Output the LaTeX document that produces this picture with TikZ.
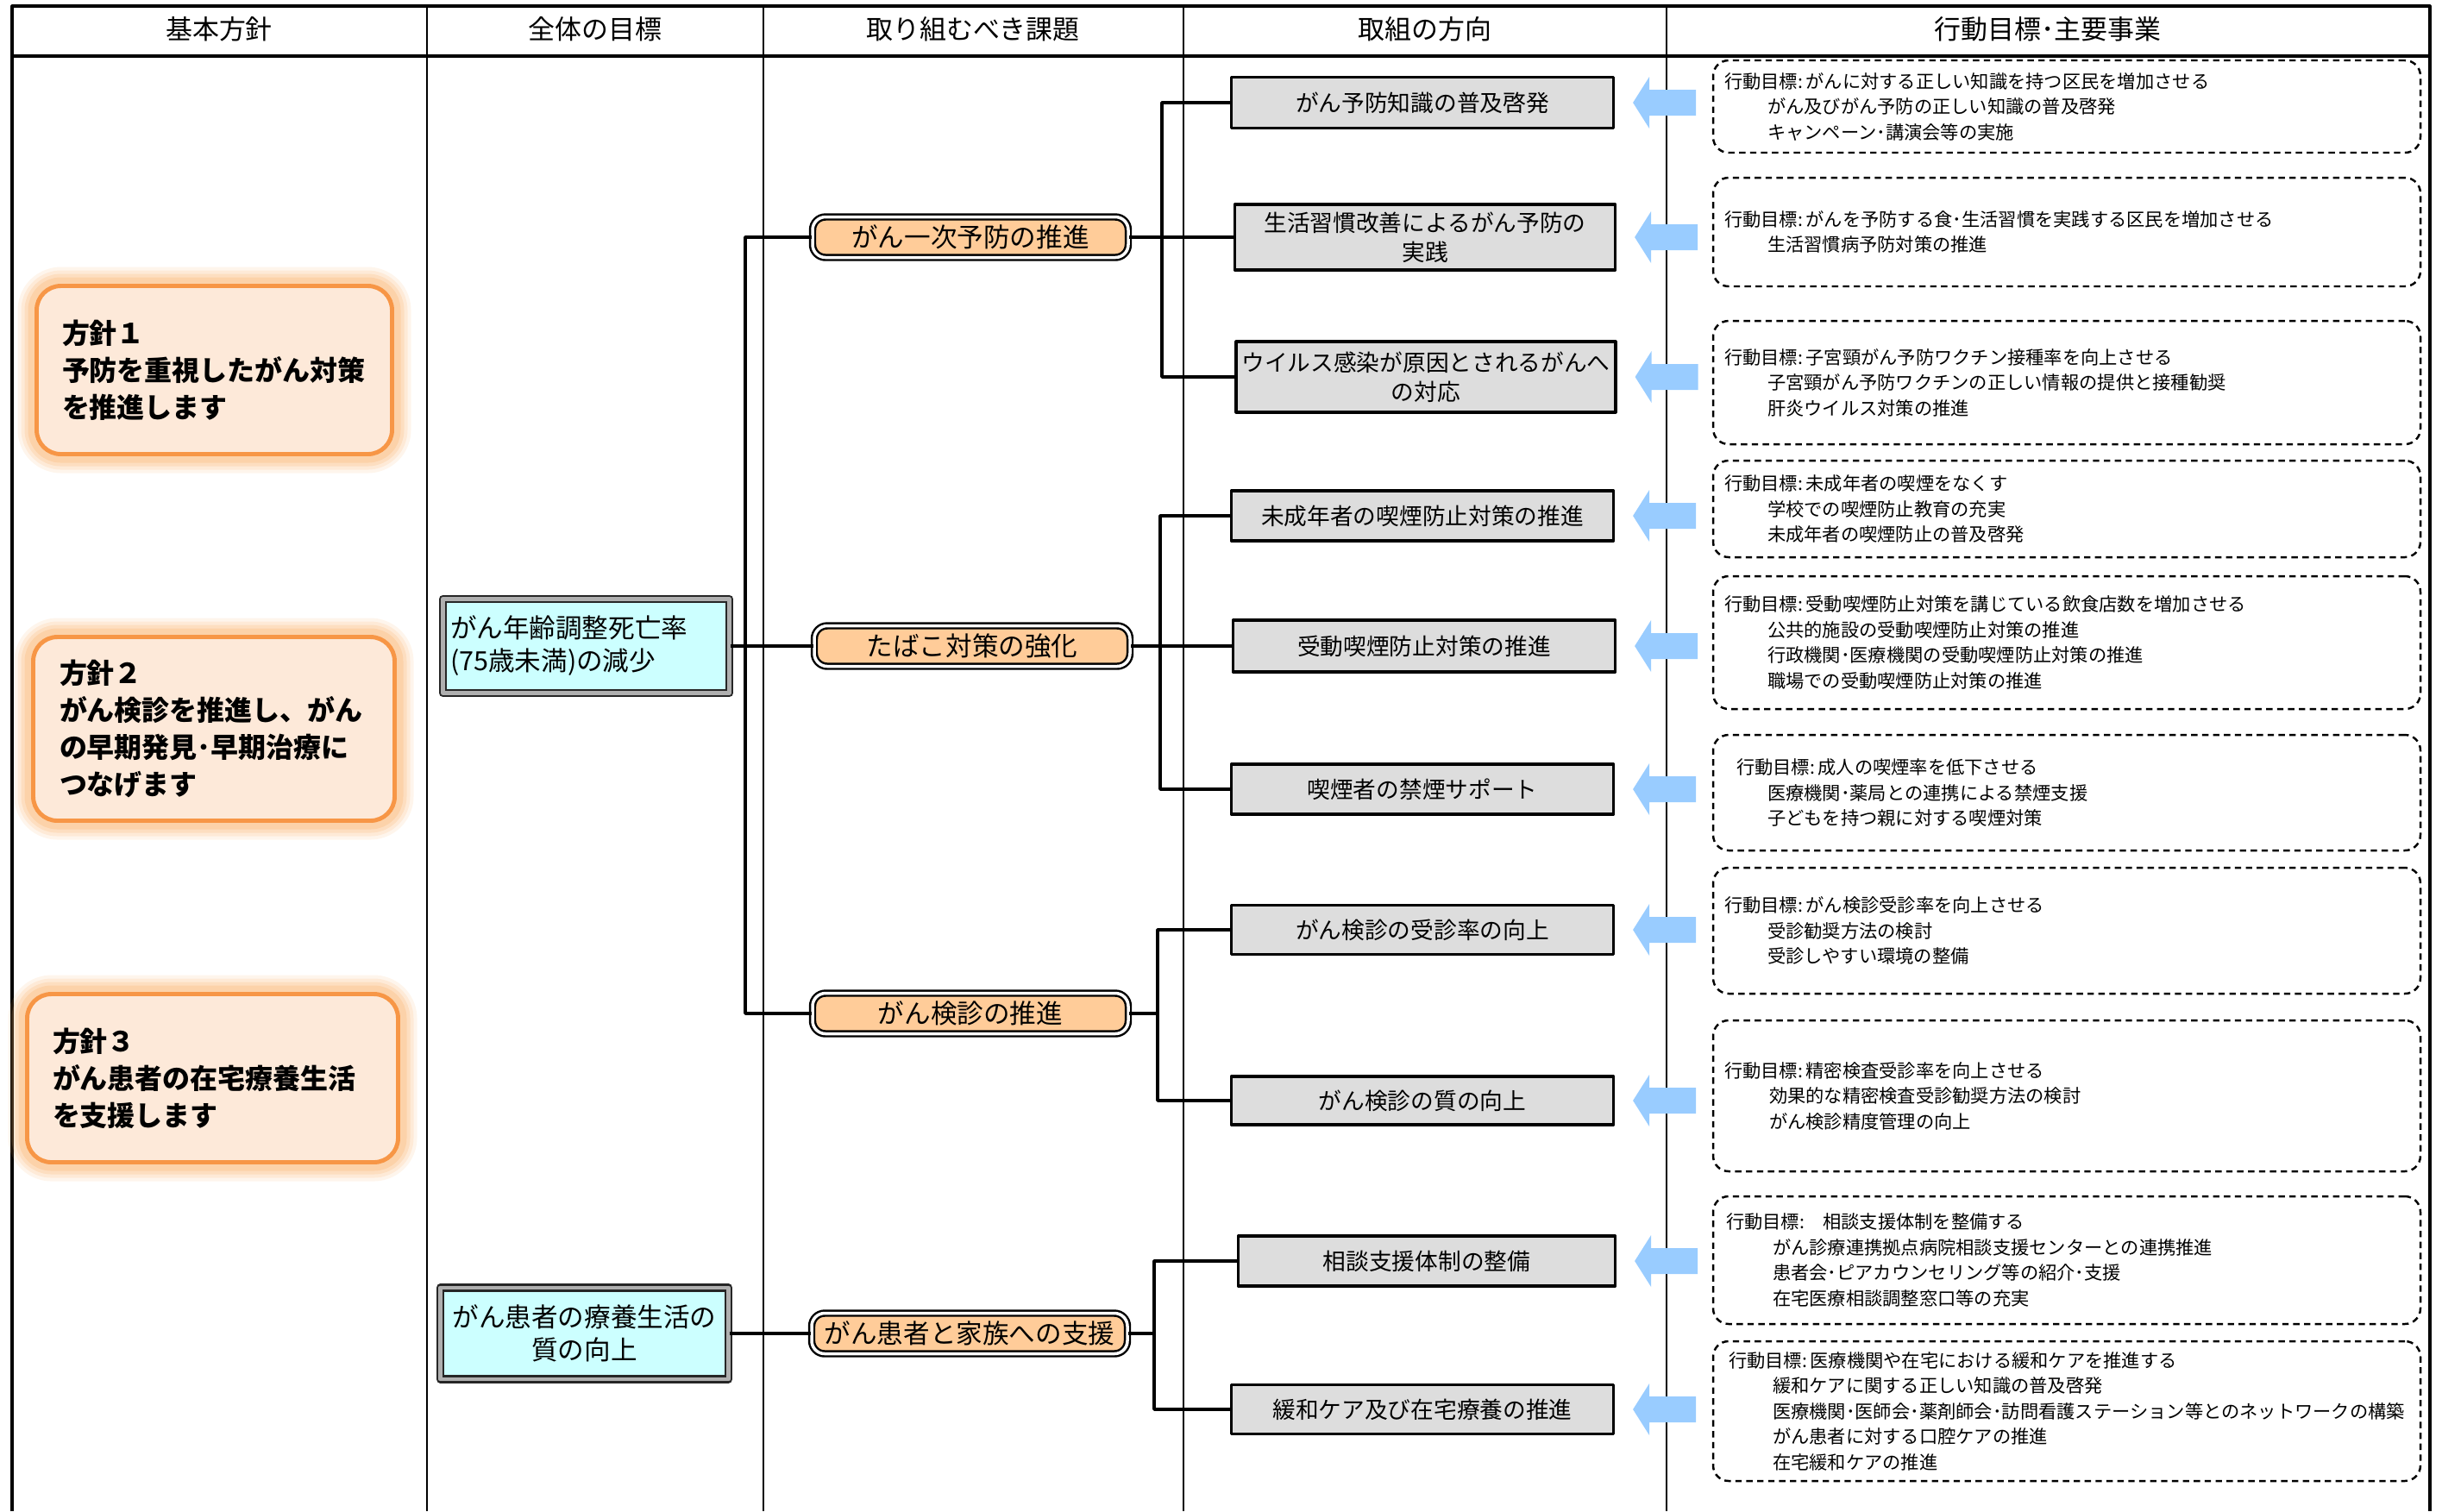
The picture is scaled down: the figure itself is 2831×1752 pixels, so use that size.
\documentclass[tikz,border=0pt]{standalone}
\usepackage{fontspec}
\setmainfont{Noto Sans CJK JP}
\usetikzlibrary{calc}
\definecolor{issuefill}{HTML}{FFCC99}
\definecolor{goalfill}{HTML}{CCFFFF}
\definecolor{dirfill}{HTML}{DDDDDD}
\definecolor{arrowblue}{HTML}{99CCFF}
\definecolor{hoshinfill}{HTML}{FDE9D9}
\definecolor{hoshinline}{HTML}{F79646}
\definecolor{glowc}{HTML}{FAB36E}
\definecolor{bevel}{HTML}{8C8C8C}
\begin{document}
\begin{tikzpicture}[x=0.1mm,y=-0.1mm,line join=round,
  frameline/.style={line width=0.9pt,black},
  colline/.style={line width=0.55pt,black},
  conn/.style={line width=1pt,black},
  hdr/.style={font=\fontsize{8.8}{10}\selectfont,inner sep=0pt},
  glow/.style={
    preaction={draw=glowc,line width=4.4mm,draw opacity=0.13},
    preaction={draw=glowc,line width=3.6mm,draw opacity=0.17},
    preaction={draw=glowc,line width=2.8mm,draw opacity=0.22},
    preaction={draw=glowc,line width=2.0mm,draw opacity=0.28}},
  hoshin/.style={glow,draw=hoshinline,line width=1.4pt,fill=hoshinfill,
    rounded corners=2.8mm,align=left,inner ysep=0pt,
    font=\bfseries\fontsize{9.1}{12.2}\selectfont},
  goal/.style={draw=black!85,line width=0.6pt,double=bevel!70,double distance=1.4pt,
    fill=goalfill,inner ysep=0pt,font=\fontsize{8.7}{10.8}\selectfont},
  issue/.style={draw=black,line width=0.7pt,double=white,double distance=1pt,
    fill=issuefill,rounded corners=1.5mm,inner sep=0pt,
    minimum width=36.6mm,minimum height=4.7mm,font=\fontsize{8.7}{10}\selectfont},
  dir/.style={draw=black,line width=0.9pt,fill=dirfill,align=center,inner sep=0pt,
    minimum width=44.3mm,font=\fontsize{7.6}{9.7}\selectfont},
  act/.style={draw=black,line width=0.7pt,dash pattern=on 2.1pt off 1.5pt,
    rounded corners=1.8mm,align=left,inner xsep=1.3mm,inner ysep=0pt,
    text width=79.4mm,font=\fontsize{6.05}{8.4}\selectfont},
  bluearrow/.style={fill=arrowblue,draw=none}]
\useasboundingbox (0,0) rectangle (2831,1752);

% table
\draw[frameline] (14,1752) -- (14,7) -- (2817,7) -- (2817,1752);
\draw[line width=1.3pt] (14,65) -- (2817,65);
\foreach \cx in {495,885,1372,1932} \draw[colline] (\cx,7) -- (\cx,1752);

\node[hdr] (h1) at (254,34) {基本方針};
\node[hdr] (h2) at (690,34) {全体の目標};
\node[hdr] (h3) at (1128,34) {取り組むべき課題};
\node[hdr] (h4) at (1652,34) {取組の方向};
\node[hdr] (h5) at (2374,34) {行動目標･主要事業};

% basic policies
\node[hoshin,inner xsep=2.95mm,text width=35.3mm,minimum height=19.5mm] (p1) at (248.5,429)
  {方針１\\予防を重視したがん対策\\を推進します};
\node[hoshin,inner xsep=3.05mm,text width=35.8mm,minimum height=21.3mm] (p2) at (248,845)
  {方針２\\がん検診を推進し、がん\\の早期発見･早期治療に\\つなげます};
\node[hoshin,inner xsep=2.95mm,text width=37.1mm,minimum height=19.5mm] (p3) at (246.5,1250)
  {方針３\\がん患者の在宅療養生活\\を支援します};

% overall goals
\node[goal,align=left,inner xsep=0.85mm,text width=31.5mm,minimum height=10.9mm] (gA) at (679.5,749)
  {がん年齢調整死亡率\\(75歳未満)の減少};
\node[goal,align=center,minimum width=33.4mm,minimum height=10.6mm,inner xsep=0pt] (gB) at (677.5,1546)
  {がん患者の療養生活の\\質の向上};

% issues
\node[issue] (i1) at (1125,275) {がん一次予防の推進};
\node[issue] (i2) at (1127,749) {たばこ対策の強化};
\node[issue] (i3) at (1125,1175) {がん検診の推進};
\node[issue] (i4) at (1124,1546) {がん患者と家族への支援};

% directions
\node[dir,minimum height=5.9mm] (d1) at (1649,119) {がん予防知識の普及啓発};
\node[dir,minimum width=44.1mm,minimum height=7.6mm] (d2) at (1652,275) {生活習慣改善によるがん予防の\\実践};
\node[dir,minimum width=44.0mm,minimum height=8.2mm] (d3) at (1653,437) {ウイルス感染が原因とされるがんへ\\の対応};
\node[dir,minimum height=5.8mm] (d4) at (1649,598) {未成年者の喫煙防止対策の推進};
\node[dir,minimum height=6.0mm] (d5) at (1651,749) {受動喫煙防止対策の推進};
\node[dir,minimum height=5.8mm] (d6) at (1649,915) {喫煙者の禁煙サポート};
\node[dir,minimum height=5.7mm] (d7) at (1649,1078) {がん検診の受診率の向上};
\node[dir,minimum height=5.6mm] (d8) at (1649,1276) {がん検診の質の向上};
\node[dir,minimum width=43.7mm,minimum height=5.8mm] (d9) at (1654,1462) {相談支援体制の整備};
\node[dir,minimum height=5.7mm] (d10) at (1649,1634) {緩和ケア及び在宅療養の推進};

% connectors
\coordinate (gt) at (864,749);
\draw[conn] (gA.east) -- (i2.west);
\draw[conn] (i1.west) -| (gt);
\draw[conn] (i3.west) -| (gt);
\draw[conn] (gB.east) -- (i4.west);

\coordinate (t1) at (1347,275);
\coordinate (t2) at (1345,749);
\coordinate (t3) at (1342,1175);
\coordinate (t4) at (1338,1546);
\draw[conn] (i1.east) -- (t1);
\draw[conn] (d1.west) -| (t1);
\draw[conn] (d2.west) -- (t1);
\draw[conn] (d3.west) -| (t1);
\draw[conn] (i2.east) -- (t2);
\draw[conn] (d4.west) -| (t2);
\draw[conn] (d5.west) -- (t2);
\draw[conn] (d6.west) -| (t2);
\draw[conn] (i3.east) -- (t3);
\draw[conn] (d7.west) -| (t3);
\draw[conn] (d8.west) -| (t3);
\draw[conn] (i4.east) -- (t4);
\draw[conn] (d9.west) -| (t4);
\draw[conn] (d10.west) -| (t4);

% block arrows
\foreach \d in {d1,d2,d3,d4,d5,d6,d7,d8,d9,d10}
  \fill[bluearrow] ([xshift=2.1mm]\d.east) -- ++(19,-30) -- ++(0,15) -- ++(54,0)
    -- ++(0,30) -- ++(-54,0) -- ++(0,15) -- cycle;

% action boxes
\node[act,minimum height=10.7mm] (a1) at (2396,123.5)
  {行動目標:\,がんに対する正しい知識を持つ区民を増加させる\\
   \hspace*{5mm}がん及びがん予防の正しい知識の普及啓発\\
   \hspace*{5mm}キャンペーン･講演会等の実施};
\node[act,minimum height=12.6mm] (a2) at (2396,269)
  {行動目標:\,がんを予防する食･生活習慣を実践する区民を増加させる\\
   \hspace*{5mm}生活習慣病予防対策の推進};
\node[act,minimum height=14.3mm] (a3) at (2396,443.5)
  {行動目標:\,子宮頸がん予防ワクチン接種率を向上させる\\
   \hspace*{5mm}子宮頸がん予防ワクチンの正しい情報の提供と接種勧奨\\
   \hspace*{5mm}肝炎ウイルス対策の推進};
\node[act,minimum height=11.2mm] (a4) at (2396,590)
  {行動目標:\,未成年者の喫煙をなくす\\
   \hspace*{5mm}学校での喫煙防止教育の充実\\
   \hspace*{5mm}未成年者の喫煙防止の普及啓発};
\node[act,minimum height=15.4mm] (a5) at (2396,745)
  {行動目標:\,受動喫煙防止対策を講じている飲食店数を増加させる\\
   \hspace*{5mm}公共的施設の受動喫煙防止対策の推進\\
   \hspace*{5mm}行政機関･医療機関の受動喫煙防止対策の推進\\
   \hspace*{5mm}職場での受動喫煙防止対策の推進};
\node[act,minimum height=13.4mm] (a6) at (2396,919)
  {\hspace*{1.4mm}行動目標:\,成人の喫煙率を低下させる\\
   \hspace*{5mm}医療機関･薬局との連携による禁煙支援\\
   \hspace*{5mm}子どもを持つ親に対する喫煙対策};
\node[act,minimum height=14.6mm] (a7) at (2396,1079)
  {行動目標:\,がん検診受診率を向上させる\\
   \hspace*{5mm}受診勧奨方法の検討\\
   \hspace*{5mm}受診しやすい環境の整備};
\node[act,minimum height=17.5mm] (a8) at (2396,1270.5)
  {行動目標:\,精密検査受診率を向上させる\\
   \hspace*{5.2mm}効果的な精密検査受診勧奨方法の検討\\
   \hspace*{5.2mm}がん検診精度管理の向上};
\node[act,minimum height=14.8mm] (a9) at (2396,1461)
  {\hspace*{0.2mm}行動目標:　相談支援体制を整備する\\
   \hspace*{5.6mm}がん診療連携拠点病院相談支援センターとの連携推進\\
   \hspace*{5.6mm}患者会･ピアカウンセリング等の紹介･支援\\
   \hspace*{5.6mm}在宅医療相談調整窓口等の充実};
\node[act,minimum height=16.2mm] (a10) at (2396,1636)
  {\hspace*{0.5mm}行動目標:\,医療機関や在宅における緩和ケアを推進する\\
   \hspace*{5.6mm}緩和ケアに関する正しい知識の普及啓発\\
   \hspace*{5.6mm}医療機関･医師会･薬剤師会･訪問看護ステーション等とのネットワークの構築\\
   \hspace*{5.6mm}がん患者に対する口腔ケアの推進\\
   \hspace*{5.6mm}在宅緩和ケアの推進};
\end{tikzpicture}
\end{document}
